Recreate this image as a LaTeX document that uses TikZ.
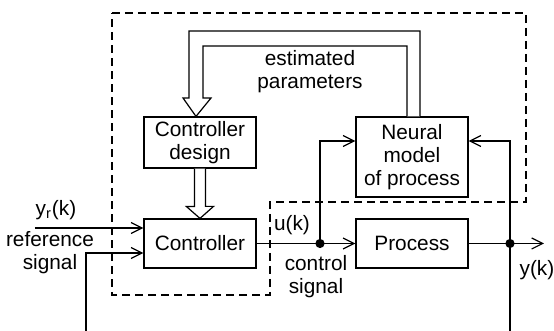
\documentclass[tikz,border=0pt]{standalone}
\usepackage{fontspec}
\setmainfont{Liberation Sans}
\usetikzlibrary{arrows.meta,calc}

\begin{document}
\begin{tikzpicture}[x=0.5pt, y=-0.5pt, line width=0.6pt,
  font=\fontsize{10.4}{11.5}\selectfont,
  blok/.style={draw, minimum width=56pt, inner sep=0pt, align=center},
  sig/.style={-{Straight Barb[length=5.5pt,width=5.5pt]}},
  txt/.style={align=center, inner sep=0pt},
  dot/.style={fill=black, circle, inner sep=0pt, minimum size=4.6pt}]
\useasboundingbox (0,0) rectangle (554,331);

\draw [dashed, dash pattern=on 4pt off 2.5pt, line width=0.75pt]
  (112,13) -- (526,13) -- (526,202) -- (270,202) -- (270,295) -- (112,295) -- cycle;

\node [blok, minimum height=25.5pt] (design) at (200,142.5) {Controller\\design};
\node [blok, minimum height=24.5pt] (ctrl) at (200,243.5) {Controller};
\node [blok, minimum height=40pt] (neural) at (412,157) {Neural\\model\\of process};
\node [blok, minimum height=24.5pt] (proc) at (412,243.5) {Process};

\coordinate (tip) at ($(design.north)+(-4,0)$);
\draw [fill=white] ($(neural.north)+(8,0)$) |- (189,31) -- (189,98) -- (183,98)
  -- (tip) -- (211,98) -- (203,98) |- (407,46) -- ($(neural.north)+(-5,0)$);
\draw [fill=white] ($(design.south)+(-5.5,0)$) -- ++(0,38) -- ++(-8,0)
  -- (ctrl.north) -- ++(13.5,-12) -- ++(-8,0) -- ($(design.south)+(5.5,0)$);

\coordinate (yr) at (35,228);
\coordinate (fbl) at (86,331);
\coordinate (fbr) at (510,331);
\coordinate (yout) at (544,243.5);
\node [dot] (uk) at (320,243.5) {};
\node [dot] (yk) at (510,243.5) {};

\draw [sig] (yr) -- (ctrl.west |- yr);
\draw [sig] (fbl) |- ($(ctrl.west)+(0,9.5)$);
\draw [sig] (ctrl.east) -- (proc.west);
\draw [sig] (uk.center) |- ($(neural.west)+(0,-16)$);
\draw [sig] (proc.east) -- (yout);
\draw [sig] (fbr) -- (yk.center) |- ($(neural.east)+(0,-16)$);

\node [txt] (est) at (310,72) {estimated\\parameters};
\node [txt] (yrl) at (56,210) {y\textsubscript{r}(k)};
\node [txt] (refl) at (50,253) {reference\\signal};
\node [txt] (ul) at (292,225) {u(k)};
\node [txt] (ctl) at (316,277) {control\\signal};
\node [txt] (yl) at (537,270) {y(k)};
\end{tikzpicture}
\end{document}
